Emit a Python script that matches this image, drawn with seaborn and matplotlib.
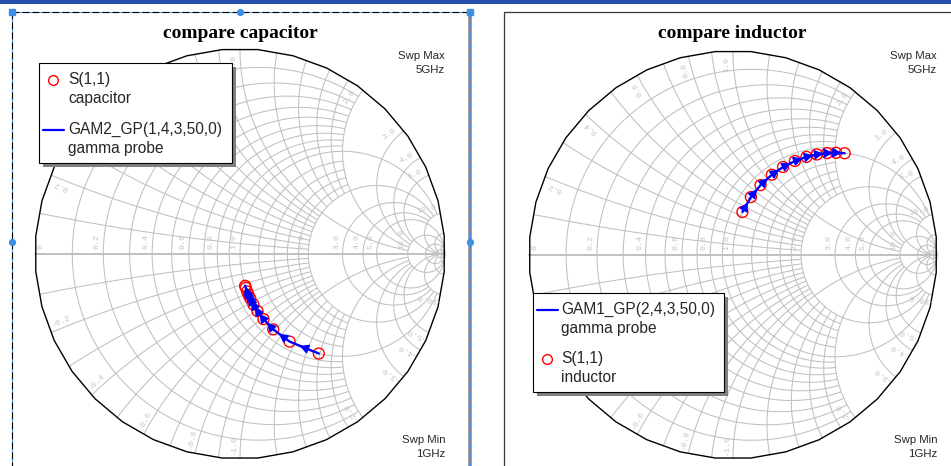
import numpy as np
import pandas as pd
import matplotlib
matplotlib.use("Agg")
import matplotlib.pyplot as plt
from matplotlib import font_manager
from matplotlib.patches import Rectangle, Polygon
import seaborn as sns

# ---------------- data: normalized impedance z = r + jx, 1 GHz -> 5 GHz sweep
freq_ghz = [1.0, 1.4, 1.8, 2.2, 2.6, 3.0, 3.4, 3.8, 4.2, 4.6, 5.0]

cap_r = [1.0, 1.0, 1.0, 1.0, 1.0, 1.0, 1.0, 1.0, 1.0, 1.0, 1.0]
cap_x = [-1.58, -1.13, -0.88, -0.72, -0.61, -0.53, -0.46, -0.42, -0.38, -0.34, -0.32]

ind_r = [1.0, 1.0, 1.0, 1.0, 1.0, 1.0, 1.0, 1.0, 1.0, 1.0, 1.0]
ind_x = [0.44, 0.62, 0.79, 0.97, 1.14, 1.32, 1.50, 1.67, 1.85, 2.02, 2.20]

titles = ["compare capacitor", "compare inductor"]
s11_labels = ["S(1,1)\ncapacitor", "S(1,1)\ninductor"]
probe_labels = ["GAM2_GP(1,4,3,50,0)\ngamma probe", "GAM1_GP(2,4,3,50,0)\ngamma probe"]
sweep_max = ["Swp Max", "5GHz"]
sweep_min = ["Swp Min", "1GHz"]

# Smith chart grid: (value, extent limit) for constant-r circles and constant-x arcs
grid_vals = [(0.1, 2), (0.2, 2), (0.3, 2), (0.4, 2), (0.5, 2), (0.6, 2), (0.7, 2),
             (0.8, 2), (0.9, 2), (1.0, 10), (1.2, 2), (1.4, 2), (1.6, 2), (1.8, 2),
             (2.0, 10), (3.0, 10), (4.0, 10), (5.0, np.inf), (10.0, np.inf),
             (20.0, 50), (50.0, np.inf)]
r_label_vals = [0, 0.2, 0.4, 0.6, 0.8, 1.0, 2.0, 3.0, 4.0, 5.0, 10.0]
x_label_vals = [0.2, 0.4, 0.6, 0.8, 1.0, 2.0, 3.0, 4.0, 5.0, 10.0]

# ---------------- style
sns.set_theme(style="white")
plt.rcParams["font.family"] = ["Liberation Sans", "DejaVu Sans"]


def has_font(name):
    try:
        font_manager.findfont(font_manager.FontProperties(family=name),
                              fallback_to_default=False)
        return True
    except Exception:
        return False


SWP_FONT = "Liberation Sans Narrow" if has_font("Liberation Sans Narrow") else "Liberation Sans"
GRID_C = "#c0c0c0"
LABEL_C = "#c4c4c4"

W, H = 951, 466
fig = plt.figure(figsize=(W / 100, H / 100), dpi=100)
fig.patch.set_facecolor("white")

# pixel-space canvas for frames, titles, annotations
bg = fig.add_axes([0, 0, 1, 1], zorder=0)
bg.set_xlim(0, W)
bg.set_ylim(H, 0)
bg.axis("off")


def gamma(z):
    z = np.asarray(z, dtype=complex)
    return (z - 1) / (z + 1)


def draw_smith(ax):
    big = np.pi / 2 - 1e-7
    for val, lim in grid_vals:
        # constant resistance circle, |x| <= lim
        a = min(np.arctan(lim), big)
        u = np.linspace(-a, a, 400)
        g = gamma(val + 1j * np.tan(u))
        ax.plot(g.real, g.imag, color=GRID_C, lw=0.75, zorder=1, solid_capstyle="butt")
        # constant reactance arcs, 0 <= r <= lim
        u = np.linspace(0, a, 400)
        for s in (1, -1):
            g = gamma(np.tan(u) + 1j * s * val)
            ax.plot(g.real, g.imag, color=GRID_C, lw=0.75, zorder=1, solid_capstyle="butt")
    # real axis
    ax.plot([-1, 1], [0, 0], color=GRID_C, lw=1.4, zorder=1.5)
    # outer boundary as a faceted polygon
    ang = np.deg2rad(np.arange(5, 365, 10))
    ax.add_patch(Polygon(np.c_[np.cos(ang), np.sin(ang)], closed=True, fill=False,
                         ec="black", lw=1.0, zorder=2))
    # resistance labels along the real axis
    for r in r_label_vals:
        gx = (r - 1) / (r + 1)
        txt = "0" if r == 0 else f"{r:.1f}"
        off = 0.045 if r == 0 else -0.012
        ax.text(gx + off, 0.025, txt, rotation=90, rotation_mode="anchor",
                ha="left", va="bottom", fontsize=6, color=LABEL_C,
                family="Liberation Mono", zorder=2)
    # reactance labels just inside the rim
    for x in x_label_vals:
        for s in (1, -1):
            g0 = complex(gamma(1j * s * x))
            th = np.degrees(np.angle(g0))
            th_l = th + 1.8 * s
            rad = 0.935
            px, py = rad * np.cos(np.radians(th_l)), rad * np.sin(np.radians(th_l))
            rot = th if s > 0 else th + 180
            txt = f"{x:.1f}" if s > 0 else f"-{x:.1f}"
            ax.text(px, py, txt, rotation=rot, rotation_mode="anchor",
                    ha="center", va="center", fontsize=6, color=LABEL_C,
                    family="Liberation Mono", zorder=2)


def make_smith_axes(cx, cy, R):
    lim = 1.04
    half = R * lim
    ax = fig.add_axes([(cx - half) / W, (H - cy - half) / H, 2 * half / W, 2 * half / H],
                      zorder=1)
    ax.set_xlim(-lim, lim)
    ax.set_ylim(-lim, lim)
    ax.axis("off")
    ax.patch.set_alpha(0)
    return ax


def draw_traces(ax, r_vals, x_vals, freqs):
    g = gamma(np.array(r_vals) + 1j * np.array(x_vals))
    df = pd.DataFrame({"re": g.real, "im": g.imag, "f": freqs})
    sns.scatterplot(data=df, x="re", y="im", ax=ax, marker="o", s=62,
                    facecolor="none", edgecolor="red", linewidth=1.0, zorder=3,
                    legend=False)
    sns.lineplot(data=df, x="re", y="im", ax=ax, sort=False, estimator=None,
                 color="#0000ff", lw=1.7, zorder=4, legend=False)
    # direction arrows along the sweep
    for i in range(len(df) - 1):
        p0 = np.array([df.re[i], df.im[i]])
        p1 = np.array([df.re[i + 1], df.im[i + 1]])
        head = p0 + 0.65 * (p1 - p0)
        tail = p0 + 0.35 * (p1 - p0)
        ax.annotate("", xy=head, xytext=tail,
                    arrowprops=dict(arrowstyle="-|>,head_length=0.5,head_width=0.27",
                                    color="#0000ff", lw=1.2, shrinkA=0, shrinkB=0,
                                    mutation_scale=10), zorder=5)
    ax.set_xlabel("")
    ax.set_ylabel("")


ax_l = make_smith_axes(240.0, 253.8, 205.0)
ax_r = make_smith_axes(733.0, 254.8, 204.0)
for ax in (ax_l, ax_r):
    draw_smith(ax)
draw_traces(ax_l, cap_r, cap_x, freq_ghz)
draw_traces(ax_r, ind_r, ind_x, freq_ghz)
ax_l.axis("off")
ax_r.axis("off")

# ---------------- window decorations
bg.add_patch(Rectangle((0, 0), W, 4, color="#2350aa", lw=0, zorder=1))
# selected graph frame (left)
for xs, ys in [([12, 470], [12, 12]), ([12, 12], [12, H + 2])]:
    bg.plot(xs, ys, color="#4a90e2", lw=0.8, zorder=1)
    bg.plot(xs, ys, color="black", lw=0.8, ls=(0, (6, 3)), zorder=1.1)
bg.plot([469.5, 469.5], [12, H + 2], color="#8a8a8a", lw=2.6, zorder=1)
bg.plot([470, 470], [12, H + 2], color="#4a90e2", lw=0.8, ls=(0, (6, 3)), zorder=1.1)
for hx, hy, shape in [(12, 12, "s"), (240, 12, "o"), (470, 12, "s"),
                      (12, 242, "o"), (470, 242, "o")]:
    bg.plot(hx, hy, marker=shape, ms=4.2, color="#3d8fe6", mec="#3d8fe6", zorder=2)
# neighbouring graph frame (right)
bg.plot([504, 504], [12, H + 2], color="#3a3a3a", lw=0.9, zorder=1)
bg.plot([504, W + 2], [12, 12], color="#3a3a3a", lw=0.9, zorder=1)

# ---------------- titles and sweep annotations
for cx, t in zip([240.5, 732.7], titles):
    bg.text(cx, 33, t, ha="center", va="center", fontsize=14, fontweight="bold",
            family="Liberation Serif", color="black")
for rx in (445, 937):
    bg.text(rx, 56, sweep_max[0], ha="right", va="center", fontsize=8.2, family=SWP_FONT)
    bg.text(rx, 70, sweep_max[1], ha="right", va="center", fontsize=8.2, family=SWP_FONT)
    bg.text(rx, 440, sweep_min[0], ha="right", va="center", fontsize=8.2, family=SWP_FONT)
    bg.text(rx, 454, sweep_min[1], ha="right", va="center", fontsize=8.2, family=SWP_FONT)

# ---------------- legends (drawn above the charts)
lg = fig.add_axes([0, 0, 1, 1], zorder=10)
lg.set_xlim(0, W)
lg.set_ylim(H, 0)
lg.axis("off")
lg.patch.set_alpha(0)


def legend_box(x0, y0, x1, y1, entries):
    lg.add_patch(Rectangle((x0 + 4, y0 + 4), x1 - x0, y1 - y0, color="#808080", lw=0))
    lg.add_patch(Rectangle((x0, y0), x1 - x0, y1 - y0, fc="white", ec="black", lw=0.8))
    for kind, hx, ty, tx, label in entries:
        if kind == "line":
            lg.plot([hx, hx + 21], [ty, ty], color="#0000ff", lw=1.6)
        else:
            lg.plot(hx, ty, marker="o", ms=7, mfc="none", mec="red", mew=1.0)
        for k, ln in enumerate(label.split("\n")):
            lg.text(tx, ty + 18.5 * k, ln, ha="left", va="center", fontsize=11.2,
                    family="Liberation Sans")


legend_box(39, 63, 232, 163, [
    ("marker", 53, 79.5, 68, s11_labels[0]),
    ("line", 43, 129.5, 68, probe_labels[0]),
])
legend_box(533, 293, 724, 392, [
    ("line", 537, 309.5, 561, probe_labels[1]),
    ("marker", 547, 358.5, 561, s11_labels[1]),
])

fig.savefig("out.png", dpi=100, facecolor="white")
